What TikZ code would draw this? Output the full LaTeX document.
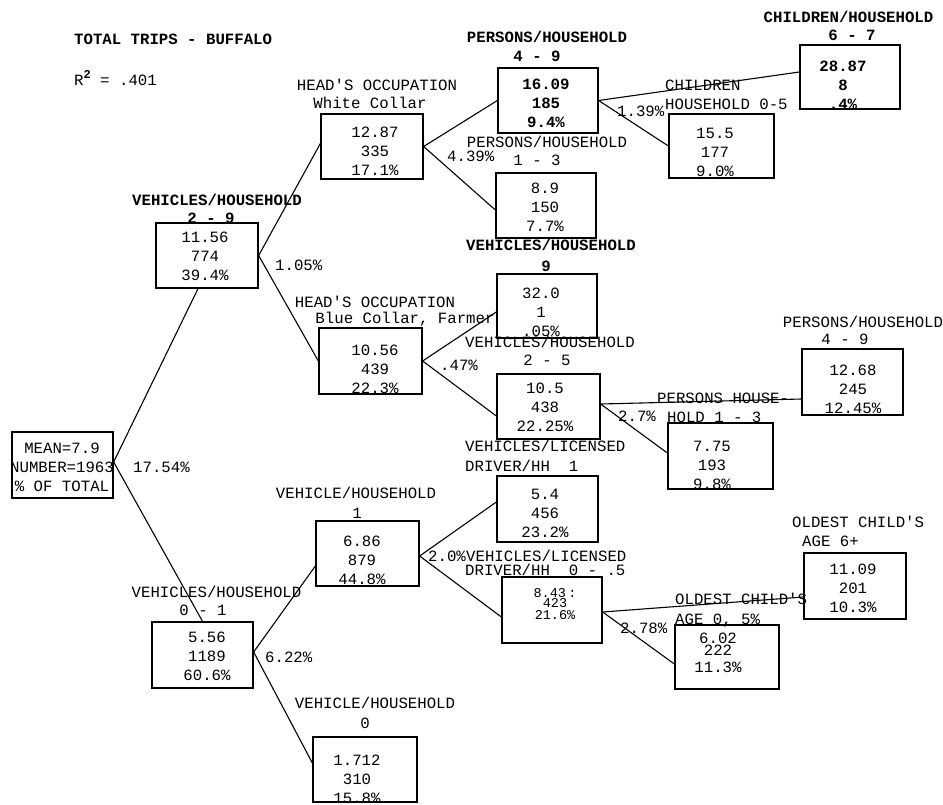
\documentclass[tikz,border=0pt]{standalone}
\usepackage{fontspec}
\setmainfont{Liberation Mono}[Ligatures=TeXOff]
\newcommand\labfont{\fontsize{15.7}{19}\selectfont}
\newcommand\blabfont{\fontsize{15.7}{19}\selectfont\bfseries}
\begin{document}
\begin{tikzpicture}[x=1pt,y=-1pt,
  box/.style={draw, line width=1.3pt, inner sep=0pt},
  lab/.style={font=\labfont, inner sep=0pt, text height=10pt, text depth=0pt},
  blab/.style={lab, font=\blabfont},
  vals/.style={font=\labfont, align=center, inner sep=0pt},
  edge/.style={line width=1.1pt}]
\useasboundingbox (0,0) rectangle (943,804);
\fill[white] (0,0) rectangle (943,804);

% title
\node[blab, anchor=west] (title) at (74,39) {TOTAL TRIPS - BUFFALO};
\node[lab, anchor=west] (rsq) at (74,80) {R\raisebox{7pt}{\fontsize{12}{12}\selectfont\bfseries 2} = .401};

% boxes
\node[box, minimum width=101pt, minimum height=66pt] (root) at (62.5,465) {};
\node[box, minimum width=102pt, minimum height=65pt] (A) at (207,255.5) {};
\node[box, minimum width=101pt, minimum height=66pt] (B) at (202.5,655) {};
\node[box, minimum width=103pt, minimum height=65pt] (C) at (367.5,553.5) {};
\node[box, minimum width=104pt, minimum height=65pt] (D) at (365,769.5) {};
\node[box, minimum width=102pt, minimum height=65pt] (E) at (372,146.5) {};
\node[box, minimum width=103pt, minimum height=66pt] (F) at (370.5,361) {};
\node[box, minimum width=100pt, minimum height=65pt] (G) at (548,100.5) {};
\node[box, minimum width=100pt, minimum height=65pt] (H) at (546,205.5) {};
\node[box, minimum width=100pt, minimum height=64pt] (I) at (850,77) {};
\node[box, minimum width=105pt, minimum height=64pt] (J) at (721.5,146) {};
\node[box, minimum width=100pt, minimum height=64pt] (K) at (547,306) {};
\node[box, minimum width=103pt, minimum height=65pt] (L) at (548.5,406.5) {};
\node[box, minimum width=101pt, minimum height=66pt] (M) at (852.5,382) {};
\node[box, minimum width=105pt, minimum height=66pt] (N) at (720.5,456) {};
\node[box, minimum width=101pt, minimum height=66pt] (O) at (547.5,509) {};
\node[box, minimum width=100pt, minimum height=66pt] (P) at (552,610) {};
\node[box, minimum width=102pt, minimum height=66pt] (Q) at (855,586) {};
\node[box, minimum width=104pt, minimum height=64pt] (R) at (727,657) {};

% values
\node[vals] (rootv) at (62,467) {MEAN=7.9\\NUMBER=1963\\\% OF TOTAL};
\node[vals] (Av) at (205,256) {11.56\\774\\39.4\%};
\node[vals] (Bv) at (207,656) {5.56\\1189\\60.6\%};
\node[vals] (Cv) at (362,560) {6.86\\879\\44.8\%};
\node[vals] (Dv) at (357,779) {1.712\\310\\15.8\%};
\node[vals] (Ev) at (375,151) {12.87\\335\\17.1\%};
\node[vals] (Fv) at (375,369) {10.56\\439\\22.3\%};
\node[vals, font=\blabfont] (Gv) at (546,103) {16.09\\185\\9.4\%};
\node[vals] (Hv) at (545,207) {8.9\\150\\7.7\%};
\node[vals, font=\blabfont] (Iv) at (843,85) {28.87\\8\\.4\%};
\node[vals] (Jv) at (715,152) {15.5\\177\\9.0\%};
\node[vals] (Kv) at (541,312) {32.0\\1\\.05\%};
\node[vals] (Lv) at (545,407) {10.5\\438\\22.25\%};
\node[vals] (Mv) at (853,389) {12.68\\245\\12.45\%};
\node[vals] (Nv) at (712,465) {7.75\\193\\9.8\%};
\node[vals] (Ov) at (545,513) {5.4\\456\\23.2\%};
\node[font=\fontsize{13.5}{10}\selectfont, align=center, inner sep=0pt] (Pv) at (555,604) {8.43\,:\\423\\[2pt]21.6\%};
\node[vals] (Qv) at (853,588) {11.09\\201\\10.3\%};
\node[font=\fontsize{15.7}{9}\selectfont, align=center, inner sep=0pt] (Rv) at (718,653) {6.02\\222\\[6pt]11.3\%};

% connectors
\draw[edge] ([yshift=3pt]root.east) -- ([xshift=-9pt]A.south);
\draw[edge] ([yshift=3pt]root.east) -- (B.north);
\draw[edge] (A.east) -- ([yshift=3pt]E.west);
\draw[edge] (A.east) -- (F.west);
\draw[edge] (E.east) -- (G.west);
\draw[edge] (E.east) -- ([yshift=-4.5pt]H.west);
\draw[edge] (G.east) -- ([yshift=5pt]I.west);
\draw[edge] (G.east) -- (J.west);
\draw[edge] (F.east) -- ([yshift=-6pt]K.west);
\draw[edge] (F.east) -- ([yshift=-9.5pt]L.west);
\draw[edge] ([yshift=2.5pt]L.east) -- ([yshift=-17pt]M.west);
\draw[edge] ([yshift=2.5pt]L.east) -- ([yshift=3pt]N.west);
\draw[edge] ([yshift=3pt]B.east) -- ([yshift=-12.5pt]C.west);
\draw[edge] ([yshift=3pt]B.east) -- ([yshift=6.5pt]D.west);
\draw[edge] ([yshift=-2.5pt]C.east) -- ([yshift=7pt]O.west);
\draw[edge] ([yshift=-2.5pt]C.east) -- ([yshift=-7pt]P.west);
\draw[edge] ([yshift=-2pt]P.east) -- ([yshift=-11pt]Q.west);
\draw[edge] ([yshift=-2pt]P.east) -- ([yshift=-7pt]R.west);

% split labels
\node[blab] (Al1) at (217,200) {VEHICLES/HOUSEHOLD};
\node[blab] (Al2) at (211,218) {2 - 9};
\node[lab] (Bl1) at (216.5,592) {VEHICLES/HOUSEHOLD};
\node[lab] (Bl2) at (203,610) {0 - 1};
\node[lab] (El1) at (377,85) {HEAD'S OCCUPATION};
\node[lab] (El2) at (370,103) {White Collar};
\node[lab] (Fl1) at (375,302) {HEAD'S OCCUPATION};
\node[lab] (Fl2) at (405,318) {Blue Collar, Farmer};
\node[blab] (Gl1) at (547,37) {PERSONS/HOUSEHOLD};
\node[blab] (Gl2) at (537,56) {4 - 9};
\node[lab] (Hl1) at (547,142) {PERSONS/HOUSEHOLD};
\node[lab] (Hl2) at (537,160) {1 - 3};
\node[blab] (Il1) at (848.5,17) {CHILDREN/HOUSEHOLD};
\node[blab] (Il2) at (852,35) {6 - 7};
\node[lab, anchor=west] (Jl1) at (665,85) {CHILDREN};
\node[lab, anchor=west] (Jl2) at (665,104) {HOUSEHOLD 0-5};
\node[blab] (Kl1) at (551,245) {VEHICLES/HOUSEHOLD};
\node[blab] (Kl2) at (546,266) {9};
\node[lab] (Ll1) at (550,342) {VEHICLES/HOUSEHOLD};
\node[lab] (Ll2) at (547,360) {2 - 5};
\node[lab] (Ml1) at (863,322) {PERSONS/HOUSEHOLD};
\node[lab] (Ml2) at (845,339) {4 - 9};
\node[lab, anchor=west] (Nl1) at (657,398) {PERSONS HOUSE-};
\node[lab, anchor=west] (Nl2) at (667,417) {HOLD 1 - 3};
\node[lab, anchor=west] (Ol1) at (465,446) {VEHICLES/LICENSED};
\node[lab, anchor=west] (Ol2) at (465,466) {DRIVER/HH\ \ 1};
\node[lab] (Cl1) at (356,493) {VEHICLE/HOUSEHOLD};
\node[lab] (Cl2) at (357,513) {1};
\node[lab] (Dl1) at (375,703) {VEHICLE/HOUSEHOLD};
\node[lab] (Dl2) at (365,723) {0};
\node[lab, anchor=west] (Pl1) at (466,556) {VEHICLES/LICENSED};
\node[lab, anchor=west] (Pl2) at (465,570) {DRIVER/HH\ \ 0 - .5};
\node[lab, anchor=west] (Ql1) at (792,522) {OLDEST CHILD'S};
\node[lab, anchor=west] (Ql2) at (802,541) {AGE 6+};
\node[lab, anchor=west] (Rl1) at (675,599) {OLDEST CHILD'S};
\node[lab, anchor=west] (Rl2) at (675,619) {AGE 0, 5\%};

% percentages
\node[lab, anchor=west] (p1) at (133,467) {17.54\%};
\node[lab, anchor=west] (p2) at (275,265) {1.05\%};
\node[lab, anchor=west] (p3) at (447,156) {4.39\%};
\node[lab, anchor=west] (p4) at (617,111) {1.39\%};
\node[lab, anchor=west] (p5) at (440,365) {.47\%};
\node[lab, anchor=west] (p6) at (618,416) {2.7\%};
\node[lab, anchor=west] (p7) at (265,657) {6.22\%};
\node[lab, anchor=west] (p8) at (428,556) {2.0\%};
\node[lab, anchor=west] (p9) at (620,628) {2.78\%};
\end{tikzpicture}
\end{document}
